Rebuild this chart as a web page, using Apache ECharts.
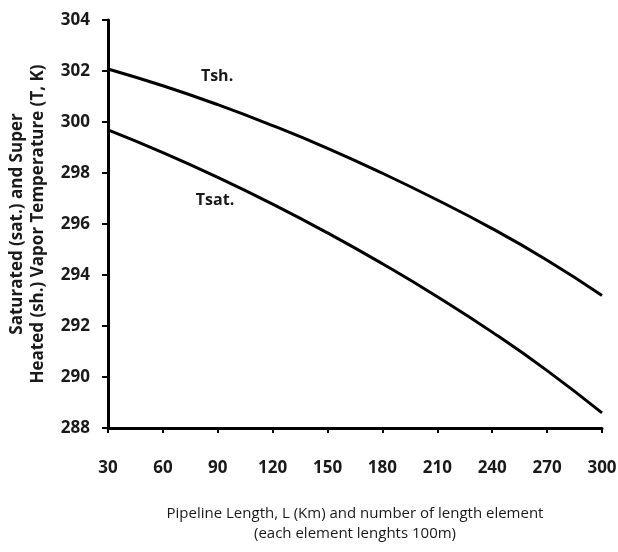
<!DOCTYPE html>
<html>
<head>
<meta charset="utf-8">
<script src="https://cdn.jsdelivr.net/npm/echarts@6/dist/echarts.min.js"></script>
<style>
html,body{margin:0;padding:0;background:#fff;}
#main{width:618px;height:552px;}
</style>
</head>
<body>
<div id="main"></div>
<script>
// pipeline length (km)
var lengths = [30, 60, 90, 120, 150, 180, 210, 240, 270, 300];
// superheated vapor temperature (K)
var tsh = [302.08, 301.42, 300.68, 299.86, 298.97, 297.99, 296.94, 295.82, 294.58, 293.2];
// saturated vapor temperature (K)
var tsat = [299.69, 298.80, 297.83, 296.78, 295.65, 294.44, 293.15, 291.76, 290.25, 288.59];
// curve labels [x, y, text]
var curveLabels = [[89.6, 301.8, 'Tsh.'], [88.5, 296.94, 'Tsat.']];

var font = '"Open Sans", "DejaVu Sans", sans-serif';
var chart = echarts.init(document.getElementById('main'));

function pairs(xs, ys){
	var out = [];
	for(var i = 0; i < xs.length; i++){
		out.push([xs[i], ys[i]]);
	}
	return out;
}

function labelPoint(item){
	return {
		coord: [item[0], item[1]],
		symbol: 'circle',
		symbolSize: 1,
		itemStyle: {color: 'rgba(0,0,0,0)'},
		label: {
			show: true,
			position: 'inside',
			formatter: item[2],
			color: '#1a1a1a',
			fontFamily: font,
			fontWeight: 'bold',
			fontSize: 16
		}
	};
}

var option = {
	animation: false,
	backgroundColor: '#fff',
	grid: {
		left: 108,
		right: 16,
		top: 20,
		bottom: 124,
		outerBoundsMode: 'none'
	},
	xAxis: {
		type: 'value',
		min: 30,
		max: 300,
		interval: 30,
		name: 'Pipeline Length, L (Km) and number of length element\n(each element lenghts 100m)',
		nameLocation: 'middle',
		nameGap: 76,
		nameTextStyle: {
			color: '#1a1a1a',
			fontFamily: font,
			fontSize: 15,
			lineHeight: 20
		},
		axisLine: {lineStyle: {color: '#000', width: 3}},
		axisTick: {show: true, length: 5, lineStyle: {color: '#000', width: 2}},
		axisLabel: {
			margin: 32,
			color: '#1a1a1a',
			fontFamily: font,
			fontWeight: 'bold',
			fontSize: 17
		},
		splitLine: {show: false}
	},
	yAxis: {
		type: 'value',
		min: 288,
		max: 304,
		interval: 2,
		name: 'Saturated (sat.) and Super\nHeated (sh.) Vapor Temperature (T, K)',
		nameLocation: 'middle',
		nameGap: 59,
		nameTextStyle: {
			color: '#1a1a1a',
			fontFamily: font,
			fontWeight: 'bold',
			fontSize: 17,
			lineHeight: 21
		},
		axisLine: {show: true, lineStyle: {color: '#000', width: 3}},
		axisTick: {show: true, length: 6, lineStyle: {color: '#000', width: 2}},
		axisLabel: {
			margin: 18,
			color: '#1a1a1a',
			fontFamily: font,
			fontWeight: 'bold',
			fontSize: 17
		},
		splitLine: {show: false}
	},
	series: [
		{
			name: 'Tsh.',
			type: 'line',
			data: pairs(lengths, tsh),
			smooth: true,
			symbol: 'none',
			lineStyle: {color: '#000', width: 3},
			markPoint: {data: [labelPoint(curveLabels[0])]}
		},
		{
			name: 'Tsat.',
			type: 'line',
			data: pairs(lengths, tsat),
			smooth: true,
			symbol: 'none',
			lineStyle: {color: '#000', width: 3},
			markPoint: {data: [labelPoint(curveLabels[1])]}
		}
	]
};
chart.setOption(option);
</script>
</body>
</html>
